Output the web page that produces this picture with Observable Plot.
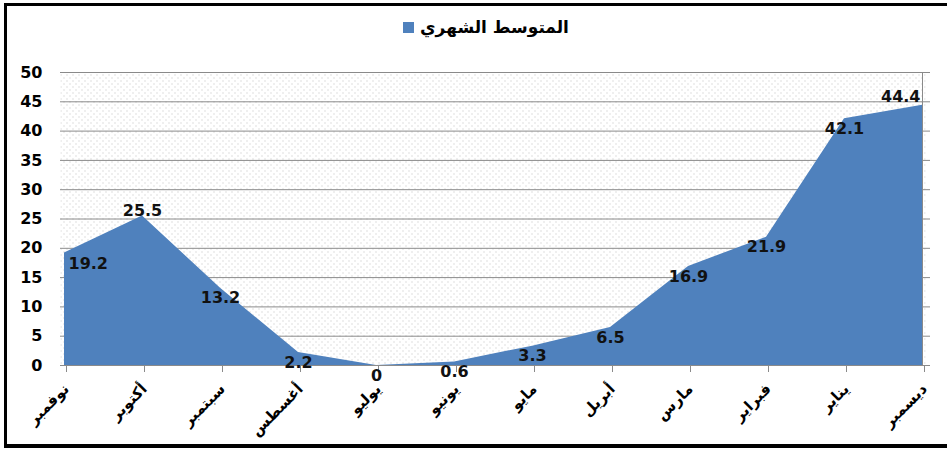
<!DOCTYPE html>
<html lang="ar">
<head>
<meta charset="utf-8">
<script src="https://cdn.jsdelivr.net/npm/d3@7"></script>
<script src="https://cdn.jsdelivr.net/npm/@observablehq/plot@0.6"></script>
<style>
  html, body { margin: 0; padding: 0; background: #fff; }
  #wrap { position: relative; width: 947px; height: 449px; overflow: hidden; font-family: "DejaVu Sans", sans-serif; }
  #border { position: absolute; left: 4px; top: 3px; width: 1000px; height: 445px; box-sizing: border-box;
            border-style: solid; border-color: #000; border-width: 3px 0 4px 3px; pointer-events: none; }
  #legend { height: 50px; display: flex; align-items: center; padding-left: 403px; box-sizing: border-box; padding-top: 4px; }
  #legend .swatch { width: 11px; height: 11px; background: #4f81bd; margin-right: 6px; }
  #legend .label { font-weight: bold; font-size: 17px; color: #000; }
  #chart svg { display: block; }
</style>
</head>
<body>
<div id="wrap">
  <div id="legend"><span class="swatch"></span><span class="label" dir="rtl"></span></div>
  <div id="chart"></div>
  <div id="border"></div>
</div>
<script>
// Monthly averages, ordered right-to-left in the calendar sense (November first)
const months = ["نوفمبر", "أكتوبر", "سبتمبر", "أغسطس", "يوليو", "يونيو", "مايو", "أبريل", "مارس", "فبراير", "يناير", "ديسمبر"];
const values = [19.2, 25.5, 13.2, 2.2, 0, 0.6, 3.3, 6.5, 16.9, 21.9, 42.1, 44.4];
const yTicks = [0, 5, 10, 15, 20, 25, 30, 35, 40, 45, 50];
const seriesName = "المتوسط الشهري";

document.querySelector("#legend .label").textContent = seriesName;

const data = months.map((month, i) => ({month, value: values[i], i}));
const last = data.length - 1;

// A label sits above its point when the point is a local high, below otherwise
const isHigh = (d) => d.i > 0 && values[d.i] >= values[d.i - 1] && (d.i === last || values[d.i] >= values[d.i + 1]);
const firstLabel = data.filter((d) => d.i === 0);
const lastLabel = data.filter((d) => d.i === last);
const highLabels = data.filter((d) => d.i > 0 && d.i < last && isHigh(d));
const lowLabels = data.filter((d) => d.i > 0 && d.i < last && !isHigh(d));

const grey = "#8a8a8a";
const blue = "#4f81bd";
const labelStyle = {x: "month", y: "value", text: (d) => String(d.value), fontSize: 16, fontWeight: "bold", fill: "#111"};

const chart = Plot.plot({
  width: 947,
  height: 399,
  marginTop: 22,
  marginBottom: 84,
  marginLeft: 60,
  marginRight: 22,
  style: {fontFamily: "'DejaVu Sans', sans-serif", fontSize: "16px", fontWeight: "bold", color: "#000", background: "transparent"},
  x: {type: "point", domain: months, padding: 0},
  y: {domain: [0, 50], ticks: yTicks},
  marks: [
    Plot.frame({fill: "url(#dots)", stroke: "none"}),
    Plot.gridY(yTicks, {stroke: grey, strokeOpacity: 1, insetRight: -5}),
    Plot.ruleX([months[last]], {y1: 0, y2: 50, stroke: grey}),
    Plot.areaY(data, {x: "month", y: "value", fill: blue}),
    Plot.ruleY([0], {stroke: grey}),
    Plot.axisX({tickRotate: -45, tickSize: 7, tickPadding: 14, dx: 2, label: null, stroke: grey, fill: "#000", fontSize: 15}),
    Plot.axisY({ticks: yTicks, tickSize: 0, tickPadding: 18, label: null, fill: "#000", fontSize: 16}),
    Plot.text(firstLabel, {...labelStyle, textAnchor: "start", dx: 4, dy: 11}),
    Plot.text(lastLabel, {...labelStyle, textAnchor: "end", dx: -2, dy: -8}),
    Plot.text(highLabels, {...labelStyle, dy: -5}),
    Plot.text(lowLabels, {...labelStyle, dy: 10})
  ]
});

// Fine dotted fill for the plotting area
const ns = "http://www.w3.org/2000/svg";
const defs = document.createElementNS(ns, "defs");
const pattern = document.createElementNS(ns, "pattern");
pattern.setAttribute("id", "dots");
pattern.setAttribute("width", "6");
pattern.setAttribute("height", "6");
pattern.setAttribute("patternUnits", "userSpaceOnUse");
const bg = document.createElementNS(ns, "rect");
bg.setAttribute("width", "6");
bg.setAttribute("height", "6");
bg.setAttribute("fill", "#fff");
pattern.appendChild(bg);
for (const [x, y] of [[0, 0], [3, 3]]) {
  const dot = document.createElementNS(ns, "rect");
  dot.setAttribute("x", x);
  dot.setAttribute("y", y);
  dot.setAttribute("width", "1");
  dot.setAttribute("height", "1");
  dot.setAttribute("fill", "#bdbdbd");
  pattern.appendChild(dot);
}
defs.appendChild(pattern);
chart.insertBefore(defs, chart.firstChild);

document.getElementById("chart").appendChild(chart);
</script>
</body>
</html>
